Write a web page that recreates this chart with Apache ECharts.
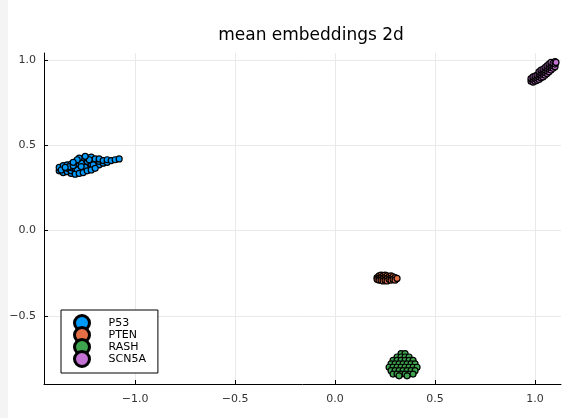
<!DOCTYPE html>
<html>
<head>
<meta charset="utf-8">
<script src="https://cdn.jsdelivr.net/npm/echarts@6/dist/echarts.min.js"></script>
<style>
  html, body { margin: 0; padding: 0; background: #fff; }
  #strip { position: absolute; left: 0; top: 0; width: 8px; height: 418px; background: #f4f4f4; }
  #main { width: 563px; height: 418px; }
</style>
</head>
<body>
<div id="strip"></div>
<div id="main"></div>
<script>
const seriesNames = ['P53', 'PTEN', 'RASH', 'SCN5A']
const seriesColors = ['#009AFA', '#E36F47', '#3EA44E', '#C371D2']
const xTicks = [-1.0, -0.5, 0.0, 0.5, 1.0]
const yTicks = [-0.5, 0.0, 0.5, 1.0]

const p53 = [
  [-1.38, 0.35], [-1.38, 0.37], [-1.36, 0.34], [-1.36, 0.36], [-1.36, 0.38],
  [-1.34, 0.345], [-1.34, 0.365], [-1.34, 0.385], [-1.32, 0.335], [-1.32, 0.35],
  [-1.32, 0.37], [-1.32, 0.39], [-1.30, 0.345], [-1.30, 0.365], [-1.30, 0.385],
  [-1.30, 0.40], [-1.28, 0.35], [-1.28, 0.37], [-1.28, 0.39], [-1.28, 0.41],
  [-1.26, 0.36], [-1.26, 0.38], [-1.26, 0.40], [-1.26, 0.42], [-1.24, 0.365],
  [-1.24, 0.385], [-1.24, 0.405], [-1.24, 0.425], [-1.22, 0.37], [-1.22, 0.39],
  [-1.22, 0.41], [-1.22, 0.43], [-1.20, 0.38], [-1.20, 0.40], [-1.20, 0.42],
  [-1.18, 0.385], [-1.18, 0.405], [-1.18, 0.42], [-1.16, 0.395], [-1.16, 0.41],
  [-1.14, 0.40], [-1.14, 0.415], [-1.12, 0.41], [-1.10, 0.415], [-1.08, 0.42],
  [-1.37, 0.355], [-1.33, 0.375], [-1.29, 0.355], [-1.27, 0.395], [-1.25, 0.37],
  [-1.23, 0.415], [-1.21, 0.385], [-1.31, 0.38], [-1.35, 0.37], [-1.27, 0.375],
  [-1.30, 0.33], [-1.28, 0.335], [-1.28, 0.425], [-1.26, 0.34], [-1.24, 0.35],
  [-1.22, 0.355], [-1.20, 0.365], [-1.25, 0.435], [-1.29, 0.415], [-1.31, 0.40]
]
const pten = [
  [0.21, -0.275], [0.21, -0.285], [0.22, -0.265], [0.22, -0.28], [0.22, -0.29],
  [0.23, -0.26], [0.23, -0.275], [0.23, -0.29], [0.24, -0.265], [0.24, -0.28],
  [0.24, -0.295], [0.25, -0.26], [0.25, -0.275], [0.25, -0.29], [0.26, -0.265],
  [0.26, -0.28], [0.26, -0.295], [0.27, -0.27], [0.27, -0.285], [0.28, -0.265],
  [0.28, -0.28], [0.28, -0.29], [0.29, -0.27], [0.29, -0.285], [0.30, -0.275],
  [0.30, -0.29], [0.31, -0.28]
]
const rash = [
  [0.33, -0.72], [0.35, -0.72],
  [0.31, -0.74], [0.33, -0.74], [0.35, -0.74], [0.37, -0.74],
  [0.29, -0.76], [0.31, -0.76], [0.33, -0.76], [0.35, -0.76], [0.37, -0.76], [0.39, -0.76],
  [0.28, -0.78], [0.30, -0.78], [0.32, -0.78], [0.34, -0.78], [0.36, -0.78], [0.38, -0.78], [0.40, -0.78],
  [0.27, -0.80], [0.29, -0.80], [0.31, -0.80], [0.33, -0.80], [0.35, -0.80], [0.37, -0.80], [0.39, -0.80], [0.41, -0.80],
  [0.28, -0.82], [0.30, -0.82], [0.32, -0.82], [0.34, -0.82], [0.36, -0.82], [0.38, -0.82], [0.40, -0.82],
  [0.29, -0.84], [0.31, -0.84], [0.33, -0.84], [0.35, -0.84], [0.37, -0.84], [0.39, -0.84],
  [0.32, -0.85], [0.36, -0.85]
]
const scn5a = [
  [0.98, 0.875], [0.98, 0.89], [0.99, 0.87], [0.99, 0.885], [0.99, 0.90],
  [1.00, 0.875], [1.00, 0.89], [1.00, 0.905], [1.01, 0.88], [1.01, 0.895],
  [1.01, 0.91], [1.02, 0.885], [1.02, 0.90], [1.02, 0.915], [1.02, 0.93],
  [1.03, 0.895], [1.03, 0.91], [1.03, 0.925], [1.03, 0.94], [1.04, 0.90],
  [1.04, 0.915], [1.04, 0.93], [1.04, 0.945], [1.05, 0.91], [1.05, 0.925],
  [1.05, 0.94], [1.05, 0.955], [1.06, 0.92], [1.06, 0.935], [1.06, 0.95],
  [1.06, 0.965], [1.07, 0.93], [1.07, 0.945], [1.07, 0.96], [1.07, 0.975],
  [1.08, 0.94], [1.08, 0.955], [1.08, 0.97], [1.08, 0.985], [1.09, 0.95],
  [1.09, 0.965], [1.09, 0.98], [1.10, 0.96], [1.10, 0.975], [1.10, 0.99],
  [1.105, 0.985]
]
const allData = [p53, pten, rash, scn5a]

const font = 'DejaVu Sans'
const fmt = (v) => v.toFixed(1).replace('-', '\u2212')

const chart = echarts.init(document.getElementById('main'))

const axisCommon = {
  type: 'value',
  axisLine: { show: true, onZero: false, lineStyle: { color: '#000', width: 1 } },
  axisTick: { show: true, inside: true, length: 4, lineStyle: { color: '#000' } },
  axisLabel: { color: '#333', fontFamily: font, fontSize: 11, formatter: fmt },
  splitLine: { show: true, lineStyle: { color: '#e9e9e9', width: 1 } }
}

chart.setOption({
  animation: false,
  title: {
    text: 'mean embeddings 2d',
    left: 306,
    top: 22,
    textAlign: 'center',
    textStyle: { fontFamily: font, fontSize: 17, fontWeight: 'normal', color: '#000' }
  },
  grid: { left: 44, right: 2, top: 53, bottom: 34 },
  xAxis: Object.assign({}, axisCommon, {
    min: -1.456, max: 1.13,
    axisLabel: Object.assign({}, axisCommon.axisLabel, { customValues: xTicks, margin: 10 }),
    axisTick: Object.assign({}, axisCommon.axisTick, { customValues: xTicks })
  }),
  yAxis: Object.assign({}, axisCommon, {
    min: -0.898, max: 1.04,
    axisLabel: Object.assign({}, axisCommon.axisLabel, { customValues: yTicks, margin: 8 }),
    axisTick: Object.assign({}, axisCommon.axisTick, { customValues: yTicks })
  }),
  legend: {
    orient: 'vertical',
    left: 61,
    top: 310,
    padding: [4, 12, 5, 12],
    itemGap: -6,
    itemWidth: 15,
    itemHeight: 15,
    backgroundColor: '#fff',
    borderColor: '#000',
    borderWidth: 1,
    borderRadius: 0,
    icon: 'circle',
    itemStyle: { borderColor: '#000', borderWidth: 3 },
    textStyle: { fontFamily: font, fontSize: 11, lineHeight: 12, color: '#000', padding: [0, 0, 0, 14] },
    data: seriesNames
  },
  series: seriesNames.map((name, i) => ({
    name: name,
    type: 'scatter',
    data: allData[i],
    symbolSize: 6,
    itemStyle: { color: seriesColors[i], borderColor: '#000', borderWidth: 1.2, opacity: 1 }
  }))
})
</script>
</body>
</html>
